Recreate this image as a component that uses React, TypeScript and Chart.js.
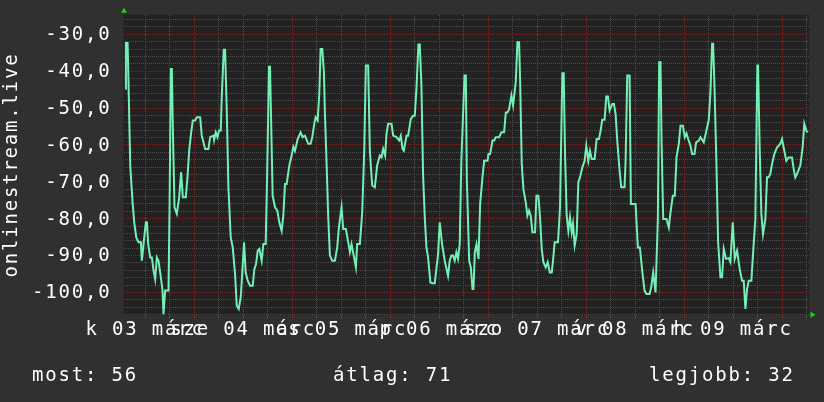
import React, { useEffect, useRef } from 'react';
import { Chart, registerables } from 'chart.js';

Chart.register(...registerables);

// ---- data (hours counted from 03 March 00:00, values as plotted) ----
const hours = [
  7.13, 7.29, 7.70, 7.94, 8.35, 8.92, 9.33, 9.82, 10.39, 10.96,
  11.20, 11.61, 12.18, 12.43, 12.75, 13.24, 13.65, 14.06, 14.46, 14.87,
  15.28, 15.85, 16.26, 16.50, 16.91, 17.72, 17.97, 18.30, 18.54, 18.78,
  19.19, 19.76, 20.33, 20.82, 21.23, 21.96, 22.37, 22.78, 23.27, 23.67,
  24.24, 24.65, 25.47, 25.87, 26.28, 26.69, 27.50, 27.91, 28.73, 28.89,
  29.30, 29.70, 30.11, 30.52, 30.76, 31.25, 31.58, 31.99, 32.39, 32.96,
  33.45, 34.02, 34.43, 34.92, 35.41, 35.82, 36.22, 36.63, 37.12, 37.69,
  38.34, 38.75, 39.16, 39.57, 39.97, 40.54, 40.95, 41.52, 41.85, 42.34,
  42.58, 43.23, 43.80, 44.37, 44.86, 45.43, 45.84, 46.25, 46.66, 47.31,
  47.88, 48.29, 48.69, 49.35, 50.08, 50.57, 51.14, 51.95, 52.52, 52.93,
  53.42, 53.75, 54.24, 54.65, 54.97, 55.38, 55.78, 56.03, 56.44, 56.84,
  57.25, 57.82, 58.47, 59.04, 59.45, 60.10, 60.51, 61.16, 61.82, 62.14,
  62.55, 63.61, 63.93, 64.59, 65.16, 65.65, 66.05, 66.62, 67.03, 67.60,
  68.25, 68.82, 69.48, 69.88, 70.29, 70.78, 71.11, 71.51, 72.33, 72.74,
  73.55, 74.20, 74.61, 75.02, 75.35, 76.00, 76.40, 77.06, 77.63, 78.03,
  78.44, 78.93, 79.26, 79.66, 80.07, 80.48, 80.89, 81.29, 81.86, 82.35,
  82.92, 83.74, 84.15, 84.72, 85.37, 86.18, 86.59, 87.00, 87.41, 87.81,
  88.22, 88.63, 89.04, 89.44, 90.21, 90.54, 90.78, 91.35, 91.76, 92.17,
  92.41, 92.74, 93.15, 93.64, 94.04, 94.61, 95.02, 95.84, 96.08, 96.49,
  97.06, 97.47, 97.87, 98.69, 99.26, 99.91, 100.32, 100.73, 101.13, 101.70,
  102.11, 102.76, 103.17, 103.58, 103.82, 104.23, 104.64, 105.21, 105.62, 106.02,
  106.43, 106.84, 107.49, 107.82, 108.31, 108.71, 109.12, 109.53, 110.10, 110.59,
  111.08, 111.57, 111.89, 112.30, 113.11, 113.60, 114.17, 114.50, 114.83, 115.23,
  115.64, 116.05, 116.46, 116.78, 117.19, 117.68, 118.09, 118.49, 119.06, 119.63,
  120.04, 120.53, 120.94, 121.35, 122.08, 122.57, 123.14, 123.55, 123.95, 124.52,
  124.93, 125.34, 125.75, 126.40, 126.81, 127.21, 127.62, 128.19, 128.60, 129.41,
  129.66, 130.07, 130.64, 130.96, 132.10, 132.67, 133.16, 133.73, 134.30, 134.79,
  135.53, 135.93, 136.42, 136.99, 137.56, 137.89, 138.22, 138.46, 138.87, 139.68,
  140.25, 140.66, 141.23, 141.72, 142.13, 142.70, 143.11, 143.68, 144.17, 144.57,
  144.98, 145.55, 145.96, 146.53, 146.94, 147.59, 148.00, 148.81, 149.46, 150.03,
  150.44, 150.85, 151.09, 151.42, 151.91, 152.32, 152.89, 153.29, 153.70, 154.27,
  154.92, 155.33, 155.90, 156.39, 156.96, 157.61, 158.18, 158.59, 159.00, 159.41,
  159.81, 160.47, 160.87, 161.44, 161.93, 162.10, 162.50, 162.91, 163.32, 163.89,
  164.30, 164.70, 165.11, 165.52, 166.09, 166.74, 167.56, 167.97, 168.37, 169.02,
  169.59, 170.41, 170.82, 171.22, 171.63, 172.45, 173.02, 173.42, 173.91, 174.24,
];

const values = [
  -44.8, -32.4, -32.4, -43.9, -65.6, -75.6, -81.0, -85.1, -86.4, -86.4,
  -91.4, -86.9, -81.0, -81.0, -86.9, -90.5, -90.5, -94.1, -96.4, -90.5,
  -91.4, -95.9, -99.5, -105.9, -99.5, -99.5, -77.8, -39.4, -39.4, -55.2,
  -76.9, -78.7, -74.2, -67.4, -74.2, -74.2, -68.8, -61.6, -56.6, -53.4,
  -53.4, -52.5, -52.5, -57.5, -59.3, -61.1, -61.1, -57.9, -57.5, -58.7,
  -56.6, -57.9, -56.1, -56.1, -47.1, -34.2, -34.2, -50.7, -71.5, -85.1,
  -87.8, -95.0, -103.6, -104.5, -101.3, -94.1, -86.4, -94.6, -96.8, -98.2,
  -98.2, -93.7, -92.3, -88.7, -88.2, -91.4, -86.9, -86.9, -69.7, -38.8,
  -38.8, -73.8, -76.9, -77.8, -81.0, -83.3, -79.2, -70.6, -70.6, -65.6,
  -62.9, -60.5, -61.6, -58.4, -56.6, -57.9, -57.5, -59.7, -59.7, -57.9,
  -54.3, -52.5, -53.4, -46.2, -34.0, -34.0, -40.3, -51.6, -65.2, -79.6,
  -90.0, -91.4, -91.4, -87.8, -82.4, -76.9, -82.8, -82.8, -86.9, -89.1,
  -86.9, -93.2, -86.9, -86.9, -78.3, -61.6, -38.5, -38.5, -61.6, -71.0,
  -71.5, -65.6, -62.9, -63.4, -61.1, -62.9, -57.0, -54.3, -54.3, -57.5,
  -57.9, -58.8, -57.5, -61.1, -61.6, -57.5, -57.5, -53.0, -52.1, -52.1,
  -44.8, -32.8, -32.8, -43.9, -68.3, -79.6, -87.8, -90.5, -97.3, -97.5,
  -97.5, -89.6, -81.0, -86.9, -91.4, -95.5, -91.4, -90.0, -90.0, -91.4,
  -89.1, -90.9, -86.9, -64.3, -41.2, -41.2, -69.2, -91.4, -93.2, -99.1,
  -99.1, -89.1, -86.9, -90.9, -76.0, -68.8, -64.3, -64.3, -62.5, -62.5,
  -58.8, -58.8, -57.9, -57.9, -56.6, -56.6, -51.2, -51.2, -50.3, -46.6,
  -49.3, -43.0, -32.2, -32.2, -41.7, -65.2, -72.0, -75.6, -79.2, -77.8,
  -79.2, -83.7, -83.7, -73.8, -73.8, -79.6, -88.2, -91.8, -93.2, -91.8,
  -94.6, -94.6, -91.4, -86.4, -86.4, -76.9, -40.6, -40.6, -62.5, -79.2,
  -83.3, -79.6, -83.7, -81.4, -87.3, -84.2, -70.1, -68.8, -66.1, -64.3,
  -60.2, -64.3, -61.6, -63.8, -63.8, -58.4, -58.4, -56.1, -53.2, -53.2,
  -46.9, -46.9, -50.7, -48.9, -48.9, -51.6, -58.8, -67.0, -71.5, -71.5,
  -64.3, -41.2, -41.2, -76.0, -76.0, -87.8, -87.8, -94.1, -99.5, -100.4,
  -100.4, -98.6, -94.6, -100.0, -80.1, -37.6, -37.6, -58.4, -80.1, -80.1,
  -82.4, -78.3, -73.8, -73.8, -63.4, -59.7, -54.8, -54.8, -57.9, -56.9,
  -58.4, -60.2, -62.5, -62.5, -59.3, -58.8, -57.9, -59.3, -56.1, -53.2,
  -45.7, -32.6, -32.6, -43.9, -65.2, -86.4, -95.9, -95.9, -88.2, -90.9,
  -90.7, -91.8, -81.0, -90.9, -88.7, -93.7, -96.8, -96.8, -104.5, -99.1,
  -96.8, -96.8, -89.6, -80.1, -38.5, -38.5, -60.7, -78.7, -84.2, -80.1,
  -68.8, -68.8, -67.9, -65.2, -62.5, -60.7, -59.7, -58.4, -60.7, -64.3,
  -63.4, -63.4, -66.5, -68.8, -67.9, -65.6, -60.7, -54.3, -56.1, -56.6,
];

const dayLabels = ['k 03 márc', 'sze 04 márc', 'cs 05 márc', 'p 06 márc', 'szo 07 márc', 'v 08 márc', 'h 09 márc'];
const labelHours = [12, 36, 60, 84, 108, 132, 156];
const xMin = 6.7;
const xMax = 174.7;
const firstGridHour = 12;
const gridStepHours = 6;
const majorGridHours = 24;

const yMin = -106.2;
const yMax = -24.7;
const yTickStep = 2;
const yLabelStep = 10;

const yTitle = 'onlinestream.live';
const summaryTexts = ['most: 56', 'átlag: 71', 'legjobb: 32'];
const summaryX = [32, 333, 649];

// ---- style ----
const FONT_FAMILY = '"DejaVu Sans Mono", monospace';
const FONT_SIZE = 19;
const LETTER_SPACING = '1.8px';
const OUTER_BG = '#303030';
const PLOT_BG = '#222222';
const LINE_COLOR = '#72f0b6';
const MINOR_GRID = '#4e4e4e';
const MAJOR_GRID = '#702c2c';
const ARROW_COLOR = '#1fd11f';
const TEXT_COLOR = '#ffffff';

// 2x2 checkerboard -> 1-on/1-off dots along any horizontal or vertical grid line
function dotPattern(color: string) {
  const c = document.createElement('canvas');
  c.width = 2;
  c.height = 2;
  const g = c.getContext('2d') as CanvasRenderingContext2D;
  g.fillStyle = color;
  g.fillRect(0, 0, 1, 1);
  g.fillRect(1, 1, 1, 1);
  return g.createPattern(c, 'repeat') as CanvasPattern;
}

const rrdLook = {
  id: 'rrdLook',
  beforeDraw(chart: any) {
    const { ctx, chartArea: a, width, height } = chart;
    ctx.letterSpacing = LETTER_SPACING;
    ctx.save();
    ctx.fillStyle = OUTER_BG;
    ctx.fillRect(0, 0, width, height);
    ctx.fillStyle = PLOT_BG;
    ctx.fillRect(a.left, a.top, a.right - a.left, a.bottom - a.top);
    ctx.restore();
  },
  afterDraw(chart: any) {
    const { ctx, chartArea: a } = chart;
    ctx.save();
    ctx.fillStyle = ARROW_COLOR;
    // top arrow (y axis)
    ctx.beginPath();
    ctx.moveTo(a.left - 2.5, a.top - 2);
    ctx.lineTo(a.left + 3.5, a.top - 2);
    ctx.lineTo(a.left + 0.5, a.top - 7);
    ctx.closePath();
    ctx.fill();
    // right arrow (x axis)
    ctx.beginPath();
    ctx.moveTo(a.right + 1, a.bottom - 3.5);
    ctx.lineTo(a.right + 1, a.bottom + 2.5);
    ctx.lineTo(a.right + 6, a.bottom - 0.5);
    ctx.closePath();
    ctx.fill();
    // summary line
    ctx.letterSpacing = LETTER_SPACING;
    ctx.fillStyle = TEXT_COLOR;
    ctx.font = `${FONT_SIZE}px ${FONT_FAMILY}`;
    ctx.textBaseline = 'alphabetic';
    ctx.textAlign = 'left';
    summaryTexts.forEach((t, i) => ctx.fillText(t, summaryX[i], 381));
    ctx.restore();
  },
};

export default function App() {
  const ref = useRef<HTMLCanvasElement>(null);
  useEffect(() => {
    document.body.style.margin = '0';
    document.body.style.background = OUTER_BG;
    const font = { family: FONT_FAMILY, size: FONT_SIZE };
    const minorDots = dotPattern(MINOR_GRID);
    const majorDots = dotPattern(MAJOR_GRID);
    const chart = new Chart(ref.current as HTMLCanvasElement, {
      type: 'line',
      data: {
        datasets: [
          {
            data: hours.map((h, i) => ({ x: h, y: values[i] })),
            borderColor: LINE_COLOR,
            borderWidth: 2,
            pointRadius: 0,
            tension: 0,
            fill: false,
          },
        ],
      },
      options: {
        responsive: false,
        animation: false,
        devicePixelRatio: 1,
        layout: { padding: { left: 0, right: 14.5, top: 14.7, bottom: 0 } },
        plugins: { legend: { display: false }, tooltip: { enabled: false } },
        scales: {
          x: {
            type: 'linear',
            min: xMin,
            max: xMax,
            afterBuildTicks: (s: any) => {
              const t = [];
              for (let h = firstGridHour; h <= s.max; h += gridStepHours) t.push({ value: h });
              s.ticks = t;
            },
            afterFit: (s: any) => {
              s.height = 402 - 315.3;
              s.paddingLeft = 0;
              s.paddingRight = 0;
            },
            ticks: {
              autoSkip: false,
              maxRotation: 0,
              minRotation: 0,
              color: TEXT_COLOR,
              font,
              padding: 0,
              callback: (v: any) => {
                const i = labelHours.indexOf(Number(v));
                return i >= 0 ? dayLabels[i] : '';
              },
            },
            grid: {
              color: (c: any) => (c.tick && c.tick.value % majorGridHours === 0 ? majorDots : minorDots),
              tickColor: (c: any) => (c.tick && c.tick.value % majorGridHours === 0 ? MAJOR_GRID : MINOR_GRID),
              lineWidth: 1,
              drawTicks: true,
              tickLength: 3,
            },
            border: { display: false },
          },
          y: {
            type: 'linear',
            min: yMin,
            max: yMax,
            afterFit: (s: any) => {
              s.width = 123.5;
              s.paddingTop = 0;
              s.paddingBottom = 0;
            },
            ticks: {
              stepSize: yTickStep,
              includeBounds: false,
              autoSkip: false,
              color: TEXT_COLOR,
              font,
              padding: 12,
              labelOffset: 1,
              callback: (v: any) => {
                const n = Number(v);
                return Math.abs(n % yLabelStep) < 1e-6 ? n.toFixed(1).replace('.', ',') : '';
              },
            },
            grid: {
              color: (c: any) =>
                c.tick && Math.abs(c.tick.value % yLabelStep) < 1e-6 ? majorDots : minorDots,
              lineWidth: 1,
              drawTicks: false,
            },
            border: { display: false },
            title: { display: true, text: yTitle, color: TEXT_COLOR, font, padding: { top: 0.5, bottom: 0 } },
          },
        },
      },
      plugins: [rrdLook],
    } as any);
    return () => chart.destroy();
  }, []);
  return <canvas ref={ref} width={824} height={402} style={{ display: 'block' }} />;
}
